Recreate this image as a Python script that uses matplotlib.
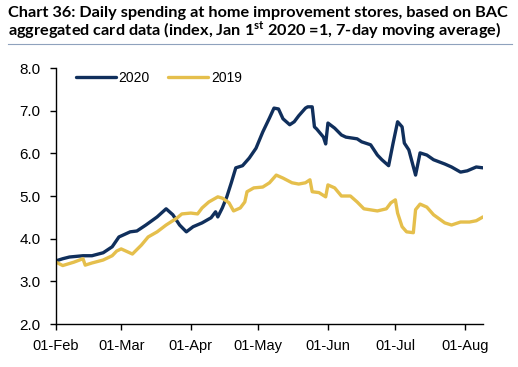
import matplotlib
matplotlib.use("Agg")
import matplotlib.pyplot as plt
import matplotlib.dates as mdates
import pandas as pd

dates_2020 = ["2020-02-01", "2020-02-04", "2020-02-07", "2020-02-13", "2020-02-17", "2020-02-22",
              "2020-02-26", "2020-02-29", "2020-03-05", "2020-03-08", "2020-03-12", "2020-03-17",
              "2020-03-21", "2020-03-24", "2020-03-27", "2020-03-30", "2020-04-02", "2020-04-06",
              "2020-04-10", "2020-04-12", "2020-04-13", "2020-04-15", "2020-04-17", "2020-04-19",
              "2020-04-21", "2020-04-24", "2020-04-27", "2020-04-30", "2020-05-03", "2020-05-06",
              "2020-05-08", "2020-05-10", "2020-05-12", "2020-05-15", "2020-05-17", "2020-05-19",
              "2020-05-22", "2020-05-23", "2020-05-25", "2020-05-26", "2020-05-27", "2020-05-30",
              "2020-05-31", "2020-06-01", "2020-06-04", "2020-06-07", "2020-06-09", "2020-06-14",
              "2020-06-16", "2020-06-20", "2020-06-23", "2020-06-25", "2020-06-28", "2020-06-30",
              "2020-07-02", "2020-07-04", "2020-07-05", "2020-07-07", "2020-07-10", "2020-07-12",
              "2020-07-15", "2020-07-18", "2020-07-23", "2020-07-26", "2020-07-30", "2020-08-02",
              "2020-08-06", "2020-08-09"]
values_2020 = [3.48, 3.53, 3.57, 3.60, 3.60, 3.67,
               3.81, 4.04, 4.16, 4.18, 4.32, 4.51,
               4.70, 4.56, 4.32, 4.16, 4.28, 4.37,
               4.49, 4.63, 4.51, 4.72, 4.98, 5.31,
               5.66, 5.71, 5.89, 6.12, 6.50, 6.83,
               7.06, 7.04, 6.81, 6.67, 6.74, 6.88,
               7.06, 7.09, 7.09, 6.62, 6.57, 6.38,
               6.22, 6.71, 6.59, 6.43, 6.38, 6.34,
               6.27, 6.20, 5.96, 5.85, 5.71, 6.24,
               6.74, 6.62, 6.24, 6.08, 5.49, 6.01,
               5.96, 5.85, 5.75, 5.68, 5.56, 5.59,
               5.68, 5.66]

dates_2019 = ["2020-02-01", "2020-02-04", "2020-02-09", "2020-02-13", "2020-02-14", "2020-02-17",
              "2020-02-22", "2020-02-26", "2020-02-28", "2020-03-01", "2020-03-06", "2020-03-10",
              "2020-03-13", "2020-03-17", "2020-03-21", "2020-03-26", "2020-03-28", "2020-04-01",
              "2020-04-04", "2020-04-06", "2020-04-09", "2020-04-13", "2020-04-15", "2020-04-18",
              "2020-04-20", "2020-04-23", "2020-04-25", "2020-04-26", "2020-04-29", "2020-05-03",
              "2020-05-06", "2020-05-09", "2020-05-12", "2020-05-16", "2020-05-19", "2020-05-22",
              "2020-05-24", "2020-05-25", "2020-05-28", "2020-05-31", "2020-06-01", "2020-06-04",
              "2020-06-07", "2020-06-11", "2020-06-14", "2020-06-17", "2020-06-23", "2020-06-27",
              "2020-06-29", "2020-07-01", "2020-07-02", "2020-07-04", "2020-07-06", "2020-07-09",
              "2020-07-10", "2020-07-12", "2020-07-15", "2020-07-18", "2020-07-23", "2020-07-26",
              "2020-07-30", "2020-08-03", "2020-08-06", "2020-08-09"]
values_2019 = [3.45, 3.37, 3.45, 3.53, 3.38, 3.43,
               3.50, 3.60, 3.71, 3.76, 3.64, 3.85,
               4.04, 4.16, 4.32, 4.49, 4.58, 4.60,
               4.58, 4.72, 4.86, 4.98, 4.95, 4.84,
               4.65, 4.72, 4.86, 5.10, 5.19, 5.21,
               5.31, 5.49, 5.42, 5.31, 5.28, 5.31,
               5.38, 5.10, 5.08, 4.98, 5.26, 5.19,
               5.00, 5.00, 4.86, 4.70, 4.65, 4.70,
               4.84, 4.91, 4.60, 4.28, 4.16, 4.14,
               4.68, 4.81, 4.74, 4.56, 4.37, 4.32,
               4.39, 4.39, 4.42, 4.51]

series_labels = ["2020", "2019"]
y_ticks = [2.0, 3.0, 4.0, 5.0, 6.0, 7.0, 8.0]
x_tick_dates = ["2020-02-01", "2020-03-01", "2020-04-01", "2020-05-01",
                "2020-06-01", "2020-07-01", "2020-08-01"]

title_text = ("Chart 36: Daily spending at home improvement stores, based on BAC\n"
              r"aggregated card data (index, Jan 1$^{\mathbf{st}}$ 2020 =1, 7-day moving average)")

NAVY = "#102f5c"
GOLD = "#e5bf4c"

plt.rcParams["font.family"] = ["Liberation Sans", "DejaVu Sans"]
plt.rcParams["mathtext.fontset"] = "custom"
plt.rcParams["mathtext.rm"] = "Lato:bold"
plt.rcParams["mathtext.bf"] = "Lato:bold"

fig = plt.figure(figsize=(5.18, 3.67), dpi=100)
ax = fig.add_axes([56 / 518, 1 - 324 / 367, (483 - 56) / 518, (324 - 68) / 367])

ax.plot(pd.to_datetime(dates_2020), values_2020, color=NAVY, lw=2.4,
        label=series_labels[0], solid_joinstyle="round", solid_capstyle="round")
ax.plot(pd.to_datetime(dates_2019), values_2019, color=GOLD, lw=2.4,
        label=series_labels[1], solid_joinstyle="round", solid_capstyle="round")

ax.set_ylim(2.0, 8.0)
ax.set_yticks(y_ticks)
ax.set_yticklabels([f"{v:.1f}" for v in y_ticks])
ax.set_xlim(pd.Timestamp("2020-02-01"), pd.Timestamp("2020-08-09"))
ax.set_xticks(pd.to_datetime(x_tick_dates))
ax.xaxis.set_major_formatter(mdates.DateFormatter("%d-%b"))

for s in ["top", "right"]:
    ax.spines[s].set_visible(False)
for s in ["left", "bottom"]:
    ax.spines[s].set_linewidth(1.0)
    ax.spines[s].set_color("black")
ax.tick_params(axis="both", direction="out", length=4, width=1.0)
ax.tick_params(axis="y", labelsize=11, pad=7)
ax.tick_params(axis="x", labelsize=10.5, pad=7)

leg = ax.legend(loc="upper left", bbox_to_anchor=(0.033, 1.01), ncol=2, frameon=False,
                fontsize=10, handlelength=2.9, handletextpad=0.2, columnspacing=1.3,
                borderaxespad=0.0)

fig.text(8 / 518, 1 - 41 / 367, title_text, fontsize=11.7, fontweight="bold",
         family="Lato", color="black", ha="left", va="bottom", linespacing=0.95)
fig.add_artist(plt.Line2D([8 / 518, 512 / 518], [1 - 44 / 367, 1 - 44 / 367],
                          color="#8fa2bd", lw=0.8, transform=fig.transFigure))

fig.savefig("out.png", dpi=100)
